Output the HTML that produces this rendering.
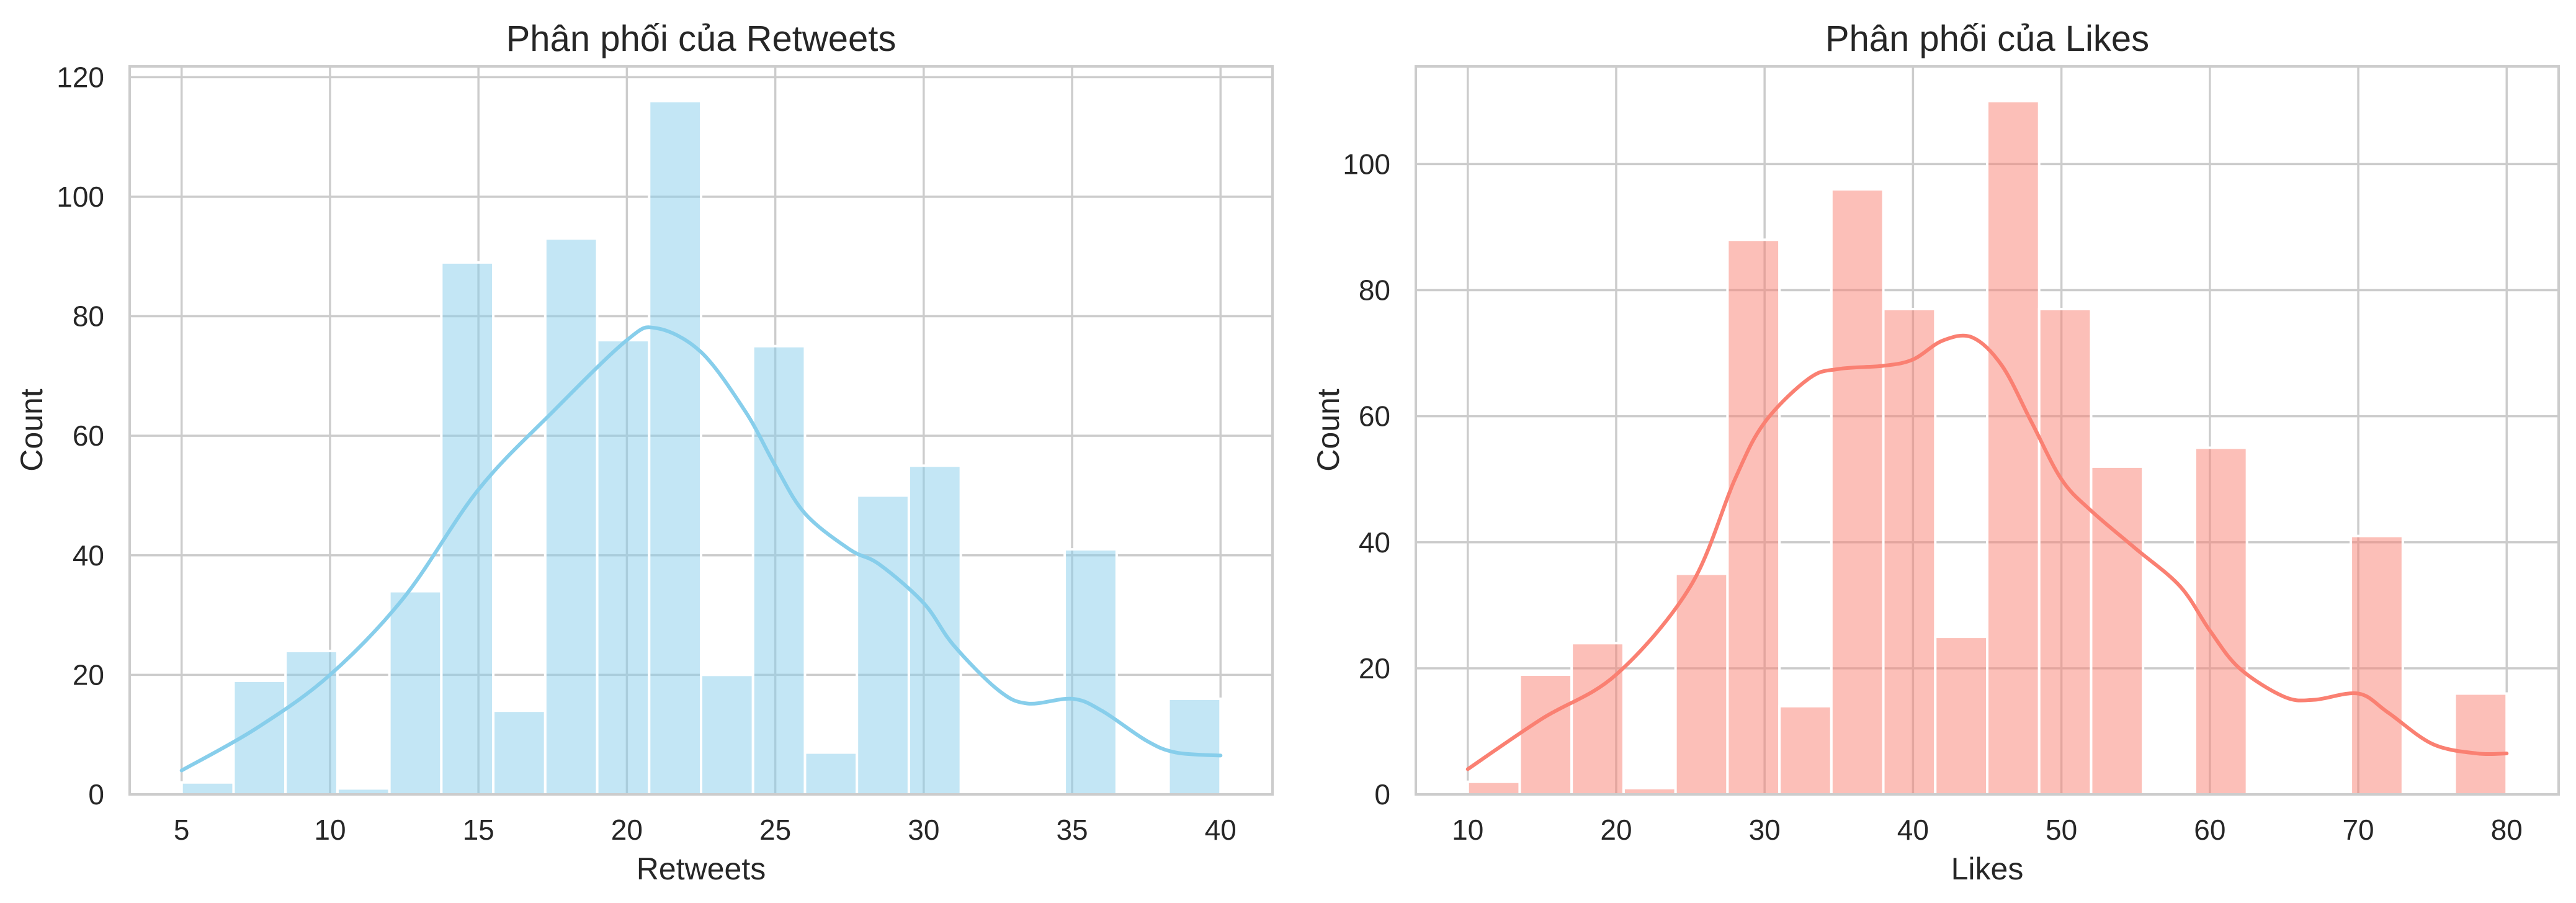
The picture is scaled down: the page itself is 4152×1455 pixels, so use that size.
<!DOCTYPE html>
<html><head><meta charset="utf-8"><style>
html,body{margin:0;padding:0;background:#fff}
svg{display:block}
text{font-family:"Liberation Sans","DejaVu Sans",sans-serif;fill:#262626}
</style></head><body>
<svg id="chart" width="4152" height="1455" viewBox="0 0 4152 1455" xmlns="http://www.w3.org/2000/svg"></svg>
<script>
const rtCounts=[2,19,24,1,34,89,14,93,76,116,20,75,7,50,55,0,0,41,0,16];
const rtKdeX=[5,7.5,10,12.5,15,17.5,20,21,22.5,24,25,26,27.5,28.5,30,31,32.5,33.5,35,36,37.5,38.5,40];
const rtKdeY=[4,11,20,33,51,64,76,78,74,64,55,47,41,38.5,32,25,17.5,15.2,16,14,9,7,6.5];
const rtXTicks=[5,10,15,20,25,30,35,40];
const rtYTicks=[0,20,40,60,80,100,120];
const lkCounts=[2,19,24,1,35,88,14,96,77,25,110,77,52,0,55,0,0,41,0,16];
const lkKdeX=[10,15,20,25,28,30,33,35,38,40,42,44,46,48,50,52,55,58,60,62,65,67,70,72,75,78,80];
const lkKdeY=[4,12,19,33,50,59,66,67.5,68,69,72,72.5,68,59,50,45,39,33,26,20,15.5,15,16,13,8,6.5,6.5];
const lkXTicks=[10,20,30,40,50,60,70,80];
const lkYTicks=[0,20,40,60,80,100];

const NS="http://www.w3.org/2000/svg";
const svg=document.getElementById('chart');
function mk(tag,attrs,parent){const e=document.createElementNS(NS,tag);for(const k in attrs)e.setAttribute(k,attrs[k]);(parent||svg).appendChild(e);return e;}

function panel(o){
  const g=mk('g',{});
  
  
  const L=o.left,R=o.right,T=107,B=1280;
  const xmin=o.lo-(o.hi-o.lo)*0.05, xmax=o.hi+(o.hi-o.lo)*0.05;
  const ymax=Math.max(...o.counts)*1.05;
  const xs=v=>L+(v-xmin)/(xmax-xmin)*(R-L);
  const ys=v=>B-v/ymax*(B-T);
  o.xt.forEach(t=>{const l=mk('line',{x1:xs(t),x2:xs(t),y1:T,y2:B,stroke:'#cccccc','stroke-width':3.5},g);
    
    const tx=mk('text',{x:xs(t),y:1353,'font-size':46,'text-anchor':'middle'},g);tx.textContent=t;
    });
  o.yt.forEach(t=>{const l=mk('line',{x1:L,x2:R,y1:ys(t),y2:ys(t),stroke:'#cccccc','stroke-width':3.5},g);
    
    const tx=mk('text',{x:L-41,y:ys(t)+16,'font-size':46,'text-anchor':'end'},g);tx.textContent=t;
    });
  const w=(o.hi-o.lo)/o.counts.length;
  o.counts.forEach((c,i)=>{ if(c<=0) return;
    const x0=xs(o.lo+i*w),x1=xs(o.lo+(i+1)*w);
    const r=mk('rect',{x:x0,y:ys(c),width:x1-x0,height:B-ys(c),fill:o.color,'fill-opacity':0.5,stroke:'#ffffff','stroke-width':4},g);
    });
  const pts=o.kx.map((v,i)=>[xs(v),ys(o.ky[i])]);
  let d='M'+pts[0][0]+','+pts[0][1];
  for(let i=0;i<pts.length-1;i++){const p0=pts[Math.max(0,i-1)],p1=pts[i],p2=pts[i+1],p3=pts[Math.min(pts.length-1,i+2)];
    d+=' C'+(p1[0]+(p2[0]-p0[0])/6)+','+(p1[1]+(p2[1]-p0[1])/6)+' '+(p2[0]-(p3[0]-p1[0])/6)+','+(p2[1]-(p3[1]-p1[1])/6)+' '+p2[0]+','+p2[1];}
  const k=mk('path',{d:d,fill:'none',stroke:o.color,'stroke-width':6,'stroke-linecap':'round'},g);
  
  const s=mk('rect',{x:L,y:T,width:R-L,height:B-T,fill:'none',stroke:'#cccccc','stroke-width':4},g);
  
  const ti=mk('text',{x:(L+R)/2,y:82,'font-size':58,'text-anchor':'middle'},g);ti.textContent=o.title;
  
  const xl=mk('text',{x:(L+R)/2,y:1417,'font-size':50,'text-anchor':'middle'},g);xl.textContent=o.xlabel;
  
  const yl=mk('text',{x:0,y:0,'font-size':50,'text-anchor':'middle',transform:'translate('+(o.ylx)+',693) rotate(-90)'},g);yl.textContent='Count';
  
}
panel({name:'retweets-panel',left:209,right:2051,lo:5,hi:40,counts:rtCounts,kx:rtKdeX,ky:rtKdeY,xt:rtXTicks,yt:rtYTicks,color:'#87CEEB',title:'Phân phối của Retweets',xlabel:'Retweets',ylx:68});
panel({name:'likes-panel',left:2282,right:4124,lo:10,hi:80,counts:lkCounts,kx:lkKdeX,ky:lkKdeY,xt:lkXTicks,yt:lkYTicks,color:'#FA8072',title:'Phân phối của Likes',xlabel:'Likes',ylx:2158});
</script>
</body></html>
